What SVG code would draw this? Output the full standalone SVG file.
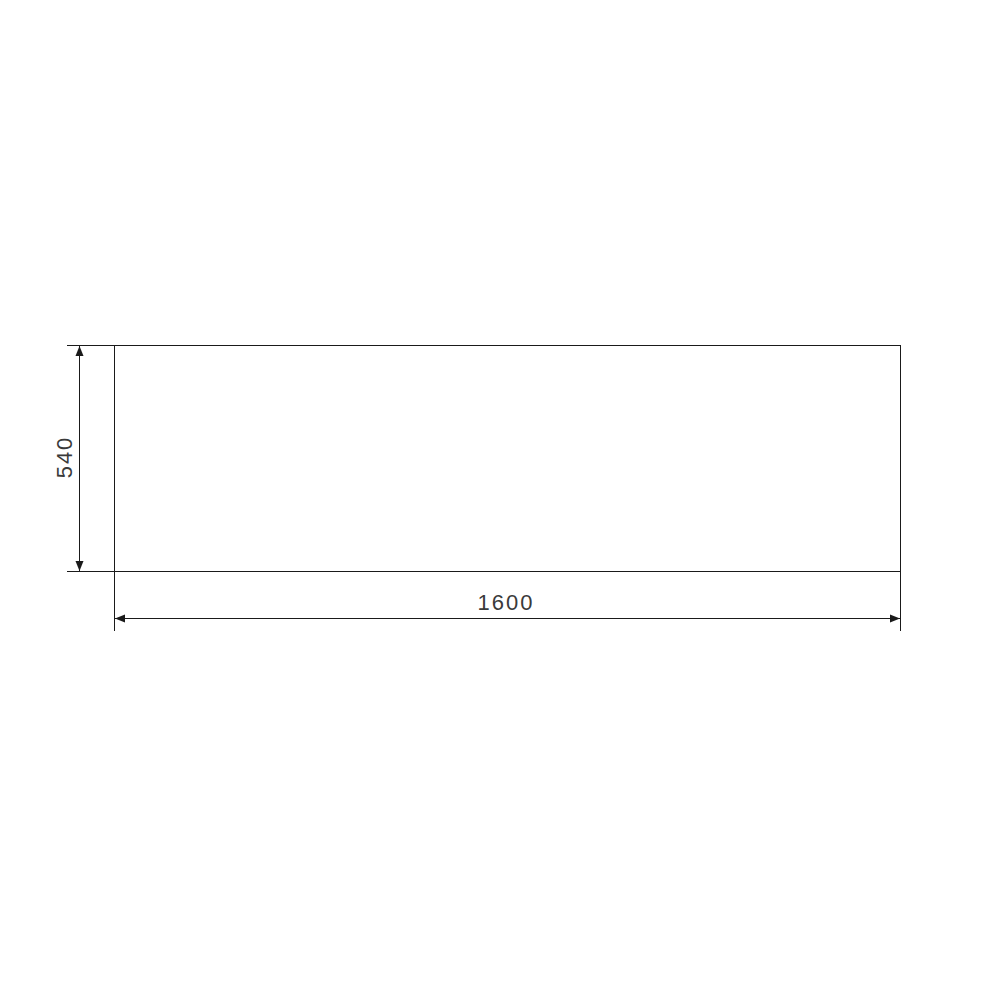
<svg xmlns="http://www.w3.org/2000/svg" width="1000" height="1000" viewBox="0 0 1000 1000">
<style>
.ln{stroke:#1a1a1a;stroke-width:1;fill:none}
.dim{stroke:#1a1a1a;stroke-width:1;fill:none}
.t{font-family:"Liberation Sans",Arial,sans-serif;font-size:22px;fill:#3a3a3a;letter-spacing:2px}
</style>
<defs>
<marker id="ah" viewBox="0 0 10 10" refX="10" refY="5" markerWidth="10" markerHeight="10" markerUnits="userSpaceOnUse" orient="auto-start-reverse">
<path d="M0,1 L10,5 L0,9 Z" fill="#1a1a1a"/>
</marker>
</defs>
<rect width="1000" height="1000" fill="#fff"/>
<g id="panel">
<rect class="ln" x="114.5" y="345.5" width="786" height="226"/>
</g>
<g id="extension-lines">
<line class="ln" x1="67" y1="345.5" x2="114.5" y2="345.5"/>
<line class="ln" x1="67" y1="571.5" x2="114.5" y2="571.5"/>
<line class="ln" x1="114.5" y1="571.5" x2="114.5" y2="631"/>
<line class="ln" x1="900.5" y1="571.5" x2="900.5" y2="631"/>
</g>
<g id="connectors">
<line class="dim" x1="79.5" y1="346" x2="79.5" y2="571" marker-start="url(#ah)" marker-end="url(#ah)"/>
<line class="dim" x1="115" y1="618.5" x2="900" y2="618.5" marker-start="url(#ah)" marker-end="url(#ah)"/>
</g>
<g id="labels">
<text class="t" x="506" y="610" text-anchor="middle">1600</text>
<text class="t" x="0" y="0" text-anchor="middle" transform="translate(72,457) rotate(-90)">540</text>
</g>
</svg>
